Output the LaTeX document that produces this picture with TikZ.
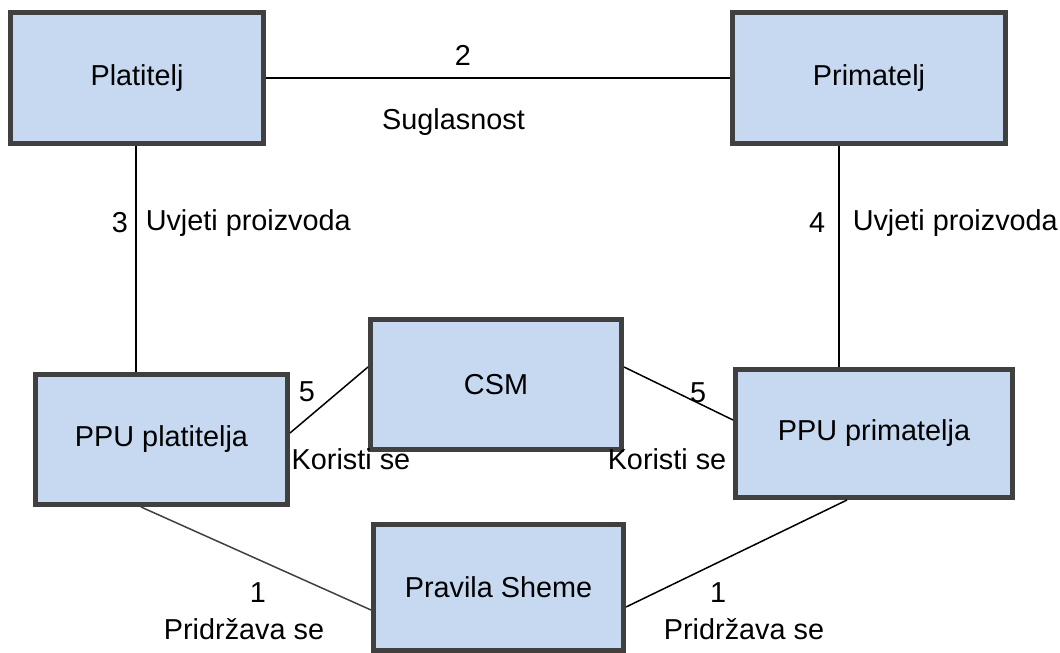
\documentclass[tikz,border=0pt]{standalone}
\usepackage{fontspec}
\setmainfont{Liberation Sans}
\definecolor{boxfill}{HTML}{C6D9F0}
\definecolor{boxline}{HTML}{404040}
\begin{document}
\begin{tikzpicture}[line width=0.03cm,
			entity/.style = {draw=boxline, fill=boxfill, line width=0.1cm, minimum height=2.62cm, font=\fontsize{16.4}{19}\selectfont},
			letter/.style={inner sep=0pt, font=\fontsize{16.4}{19}\selectfont}] 
			
			\useasboundingbox (0,0) rectangle (21.2,-13.06);
			
			\node[entity, minimum width=5.06cm] (plat) at (2.74,-1.56) {Platitelj};
			\node[entity, minimum width=5.46cm] (prim) at (17.38,-1.56) {Primatelj};
			\node[entity, minimum width=5.02cm, minimum height=2.6cm] (csm) at (9.92,-7.69) {CSM};
			\node[entity, minimum width=5.04cm, minimum height=2.6cm] (ppul) at (3.23,-8.79) {PPU platitelja};
			\node[entity, minimum width=5.54cm, minimum height=2.56cm] (ppur) at (17.48,-8.67) {PPU primatelja};
			\node[entity, minimum width=5.0cm, minimum height=2.52cm] (pravila) at (9.97,-11.75) {Pravila Sheme};
			
			\coordinate (r3) at ([xshift=-0.02cm]plat.south);
			\coordinate (r4) at ([xshift=-0.6cm]prim.south);
			
			\draw[-] (plat) to (prim);
			\draw[-] (r3) to (r3 |- ppul.north);
			\draw[-] (r4) to (r4 |- ppur.north);
			\draw[-] ([yshift=0.35cm]csm.west) to ([yshift=0.13cm]ppul.east);
			\draw[-] ([yshift=0.35cm]csm.east) to ([yshift=0.27cm]ppur.west);
			\draw[-, boxline] ([xshift=-0.41cm]ppul.south) to ([yshift=-0.45cm]pravila.west);
			\draw[-] ([xshift=-0.54cm]ppur.south) to ([yshift=-0.39cm]pravila.east);
			
			\node[letter] (n2) at (9.26,-1.1) {2};
			\node[letter] (sug) at (9.07,-2.45) {Suglasnost};
			\node[letter] (n3) at (2.4,-4.46) {3};
			\node[letter, anchor=west] (uv3) at (2.9,-4.46) {Uvjeti proizvoda};
			\node[letter] (n4) at (16.34,-4.46) {4};
			\node[letter, anchor=west] (uv4) at (17.04,-4.46) {Uvjeti proizvoda};
			\node[letter] (n5a) at (6.14,-7.84) {5};
			\node[letter] (kor1) at (7.02,-9.18) {Koristi se};
			\node[letter] (n5b) at (13.96,-7.86) {5};
			\node[letter] (kor2) at (13.34,-9.18) {Koristi se};
			\node[letter] (n1a) at (5.16,-11.86) {1};
			\node[letter] (prid1) at (4.88,-12.58) {Pridržava se};
			\node[letter] (n1b) at (14.36,-11.86) {1};
			\node[letter] (prid2) at (14.88,-12.58) {Pridržava se};
			
		\end{tikzpicture}
\end{document}
